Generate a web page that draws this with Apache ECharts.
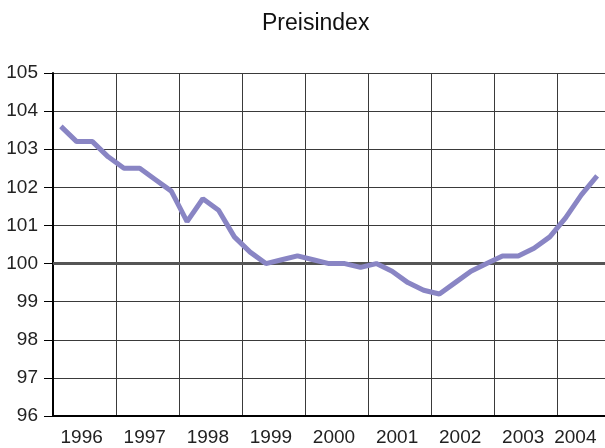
<!DOCTYPE html>
<html>
<head>
<meta charset="utf-8">
<script src="https://cdn.jsdelivr.net/npm/echarts@6/dist/echarts.min.js"></script>
<style>
  html, body { margin: 0; padding: 0; background: #fff; }
  #chart { width: 605px; height: 448px; }
</style>
</head>
<body>
<div id="chart"></div>
<script>
// Preisindex, quarterly values 1996 Q1 .. 2004 Q3
const years = [1996, 1997, 1998, 1999, 2000, 2001, 2002, 2003, 2004];
const quarters = ['Q1', 'Q2', 'Q3', 'Q4'];
const priceIndex = [
  103.6, 103.2, 103.2, 102.8,   // 1996
  102.5, 102.5, 102.2, 101.9,   // 1997
  101.1, 101.7, 101.4, 100.7,   // 1998
  100.3, 100.0, 100.1, 100.2,   // 1999
  100.1, 100.0, 100.0, 99.9,    // 2000
  100.0, 99.8, 99.5, 99.3,      // 2001
  99.2, 99.5, 99.8, 100.0,      // 2002
  100.2, 100.2, 100.4, 100.7,   // 2003
  101.2, 101.8, 102.3           // 2004
];
const yTicks = { min: 96, max: 105, step: 1 };
const baseLine = 100;

const categories = [];
years.forEach(y => quarters.forEach(q => categories.push(y + ' ' + q)));
categories.length = priceIndex.length;

const font = '"Liberation Sans", Arial, Helvetica, sans-serif';
const chart = echarts.init(document.getElementById('chart'));

chart.setOption({
  animation: false,
  title: {
    text: 'Preisindex',
    left: 257,
    top: 7,
    textStyle: { fontFamily: font, fontSize: 23, fontWeight: 'normal', color: '#111' }
  },
  grid: { left: 53, right: -3, top: 73, bottom: 32 },
  xAxis: {
    type: 'category',
    data: categories,
    boundaryGap: true,
    axisLine: { lineStyle: { color: '#000', width: 2 } },
    axisTick: { show: false },
    splitLine: {
      show: true,
      interval: (i) => i % 4 === 0,
      lineStyle: { color: '#3a3a3a', width: 1 }
    },
    axisLabel: {
      interval: (i) => i % 4 === 1,
      margin: 12,
      formatter: (v) => {
        const y = v.split(' ')[0];
        return y === '2004' ? '{l|' + y + '}' : '{r|' + y + '}';
      },
      rich: {
        r: { fontFamily: font, fontSize: 19, color: '#222', padding: [0, 0, 0, 10] },
        l: { fontFamily: font, fontSize: 19, color: '#222', padding: [0, 12, 0, 0] }
      }
    }
  },
  yAxis: {
    type: 'value',
    min: yTicks.min,
    max: yTicks.max,
    interval: yTicks.step,
    axisLine: { show: true, lineStyle: { color: '#000', width: 2 } },
    axisTick: { show: true, length: 9, lineStyle: { color: '#000', width: 1 } },
    axisLabel: { fontFamily: font, fontSize: 19, color: '#222', margin: 15 },
    splitLine: { lineStyle: { color: '#3a3a3a', width: 1 } }
  },
  series: [
    {
      // reference line at 100, kept under the index line
      type: 'line',
      data: [],
      z: 1,
      markLine: {
        silent: true,
        symbol: 'none',
        label: { show: false },
        lineStyle: { color: '#555', width: 3, type: 'solid' },
        data: [{ yAxis: baseLine }]
      }
    },
    {
      name: 'Preisindex',
      type: 'line',
      z: 5,
      data: priceIndex,
      symbol: 'none',
      lineStyle: { color: '#8985c4', width: 5 }
    }
  ]
});
</script>
</body>
</html>
